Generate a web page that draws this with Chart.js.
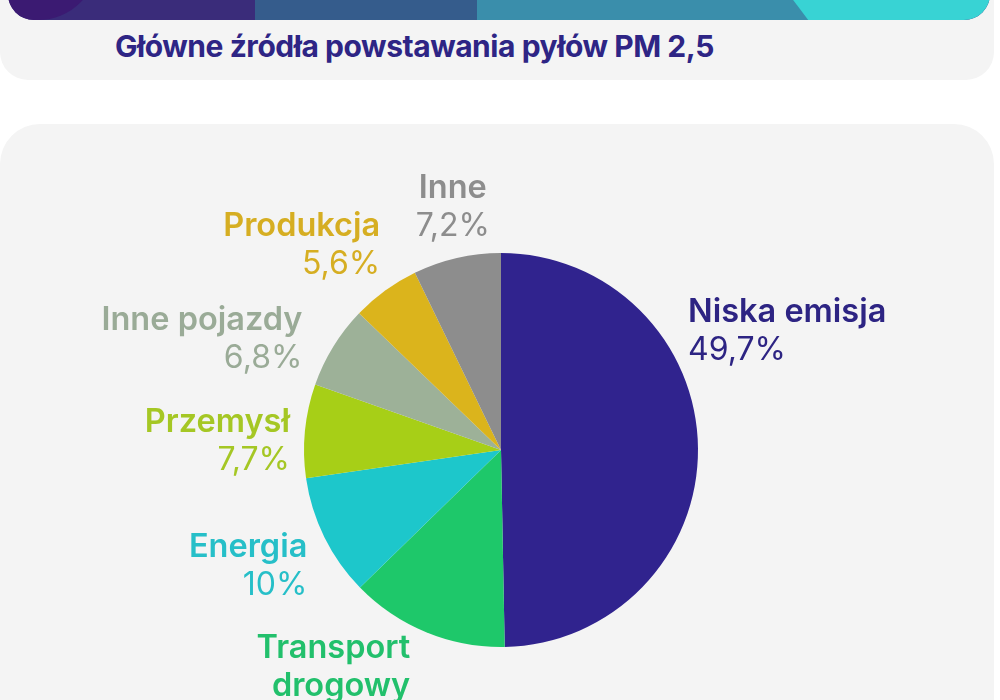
<!DOCTYPE html>
<html lang="pl">
<head>
<meta charset="utf-8">
<title>Główne źródła powstawania pyłów PM 2,5</title>
<script src="https://cdn.jsdelivr.net/npm/chart.js@4"></script>
<style>
  html, body { margin: 0; padding: 0; background: #ffffff; }
  body { width: 1000px; height: 700px; position: relative; overflow: hidden; font-family: Inter, "Noto Sans", sans-serif; }
  .card { position: absolute; background: #f4f4f4; }
  #titleCard { left: 0; top: -60px; width: 994px; height: 140px; border-radius: 28px; }
  #banner { position: absolute; left: 8px; top: -40px; width: 982px; height: 60px; border-radius: 26px; overflow: hidden; background: #3a2c7a; }
  #banner div { position: absolute; top: 0; height: 60px; }
  #title { position: absolute; left: 115px; top: 28px; margin: 0; font-size: 30px; font-weight: 700; color: #2e2585; letter-spacing: -0.45px; white-space: nowrap; }
  #chartCard { left: 0; top: 124px; width: 994px; height: 640px; border-radius: 40px; }
  #pm25 { position: absolute; left: 0; top: 0; }
</style>
</head>
<body>
<div class="card" id="titleCard"></div>
<div id="banner">
  <div style="left:-20px;width:110px;background:#3b1a72;border-radius:0 0 60px 0;"></div>
  <div style="left:247px;width:230px;background:#355c8c;"></div>
  <div style="left:469px;width:340px;background:#3a8eab;"></div>
  <div style="left:755px;width:300px;background:#38d3d4;transform:skewX(37deg);transform-origin:0 0;"></div>
</div>
<h1 id="title">Główne źródła powstawania pyłów PM 2,5</h1>
<div class="card" id="chartCard"></div>
<canvas id="pm25" width="1000" height="700"></canvas>
<script>
const categories = ["Niska emisja", "Transport drogowy", "Energia", "Przemysł", "Inne pojazdy", "Produkcja", "Inne"];
const shares = [49.7, 13, 10, 7.7, 6.8, 5.6, 7.2];
const sliceColors = ["#30238e", "#1ec86a", "#1dc7cb", "#a7cf17", "#9db198", "#dbb41c", "#8d8d8d"];
const labelColors = ["#2d2483", "#22c06c", "#26bfc8", "#a5c724", "#9aab97", "#d6ae22", "#8d8d8d"];

// label placement relative to the middle of each slice's outer edge
const labelLayout = [
    { dx: -10, dy: -126, align: "left" },
    { dx: -16, dy: 26, align: "right", lines: ["Transport", "drogowy"] },
    { dx: -17, dy: 20, align: "right" },
    { dx: -15, dy: 1, align: "right" },
    { dx: -31, dy: -17, align: "right" },
    { dx: -5, dy: -55, align: "right" },
    { dx: -4, dy: -60, align: "center" }
];
const lineHeight = 38;

function formatShare(v) {
    return String(v).replace(".", ",") + "%";
}

// Draws the name + percentage next to every slice
const sliceLabels = {
    id: "sliceLabels",
    afterDatasetsDraw(chart) {
        const ctx = chart.ctx;
        const meta = chart.getDatasetMeta(0);
        meta.data.forEach((arc, i) => {
            const mid = (arc.startAngle + arc.endAngle) / 2;
            const layout = labelLayout[i];
            const x = arc.x + Math.cos(mid) * arc.outerRadius + layout.dx;
            let y = arc.y + Math.sin(mid) * arc.outerRadius + layout.dy;
            const lines = layout.lines || [chart.data.labels[i]];

            ctx.save();
            ctx.fillStyle = labelColors[i];
            ctx.textAlign = layout.align;
            ctx.textBaseline = "alphabetic";
            ctx.font = "600 32.5px Inter";
            lines.forEach(line => {
                ctx.fillText(line, x, y);
                y += lineHeight;
            });
            ctx.font = "400 32px Inter";
            ctx.fillText(formatShare(chart.data.datasets[0].data[i]), x, y);
            ctx.restore();
        });
    }
};

new Chart(document.getElementById("pm25"), {
    type: "pie",
    data: {
        labels: categories,
        datasets: [{
            data: shares,
            backgroundColor: sliceColors,
            borderWidth: 0
        }]
    },
    options: {
        responsive: false,
        animation: false,
        layout: {
            padding: { left: 304, right: 302, top: 253, bottom: 53 }
        },
        plugins: {
            legend: { display: false },
            tooltip: { enabled: false }
        }
    },
    plugins: [sliceLabels]
});
</script>
</body>
</html>
